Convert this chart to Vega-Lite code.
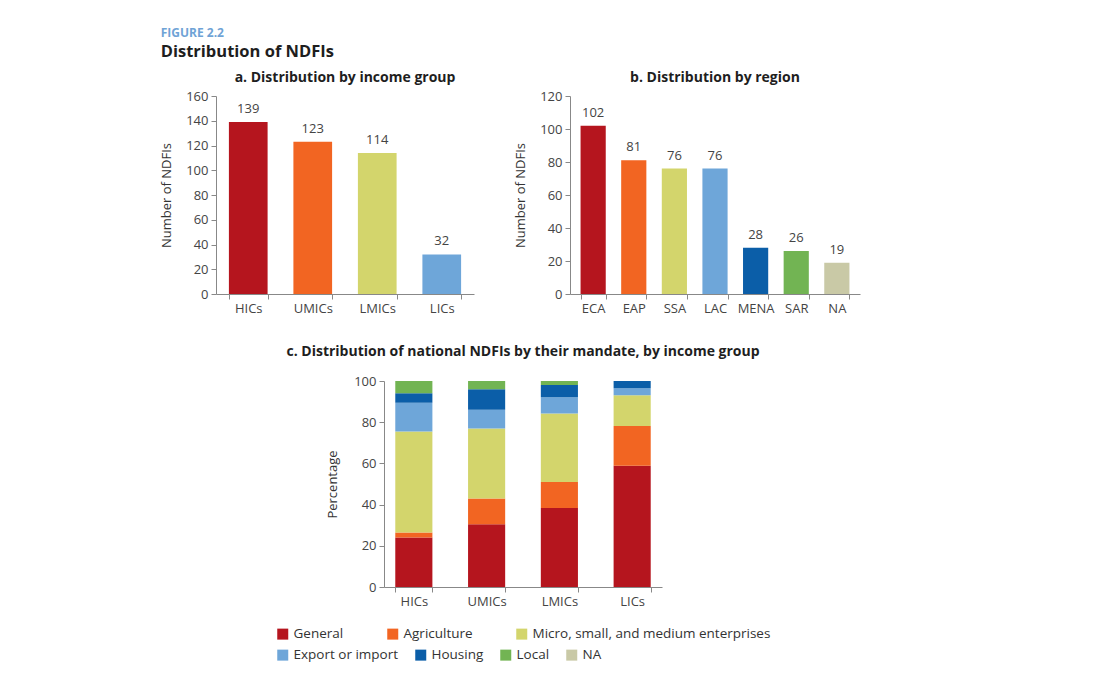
{
  "$schema": "https://vega.github.io/schema/vega-lite/v6.json",
  "background": "white",
  "padding": {"left": 160, "top": 26, "right": 10, "bottom": 5},
  "title": {
    "text": "FIGURE 2.2",
    "subtitle": "Distribution of NDFIs",
    "anchor": "start",
    "font": "Open Sans",
    "fontSize": 12,
    "fontWeight": "bold",
    "color": "#6fa3d6",
    "subtitleFont": "Open Sans",
    "subtitleFontSize": 16.5,
    "subtitleFontWeight": "bold",
    "subtitleColor": "#1e1e1e",
    "subtitlePadding": 4,
    "offset": 10
  },
  "spacing": 30,
  "resolve": {"scale": {"color": "independent"}, "legend": {"color": "independent"}},
  "vconcat": [
    {
      "hconcat": [
        {
          "width": 258,
          "height": 198,
          "title": {"text": "a. Distribution by income group", "offset": 5},
          "data": {"values": [
            {"group": "HICs", "n": 139},
            {"group": "UMICs", "n": 123},
            {"group": "LMICs", "n": 114},
            {"group": "LICs", "n": 32}
          ]},
          "encoding": {
            "x": {"field": "group", "type": "nominal", "sort": null,
                  "scale": {"paddingInner": 0.4, "paddingOuter": 0.2},
                  "axis": {"title": null, "labelAngle": 0, "tickBand": "extent"}},
            "y": {"field": "n", "type": "quantitative",
                  "scale": {"domain": [0, 160]},
                  "axis": {"values": [0, 20, 40, 60, 80, 100, 120, 140, 160], "title": "Number of NDFIs"}}
          },
          "layer": [
            {"mark": {"type": "bar"},
             "encoding": {"color": {"field": "group", "type": "nominal",
               "scale": {"domain": ["HICs", "UMICs", "LMICs", "LICs"], "range": ["#b5151e", "#f26522", "#d3d56c", "#6ea6d9"]},
               "legend": null}}},
            {"mark": {"type": "text", "baseline": "bottom", "dy": -6, "font": "Open Sans", "fontSize": 13, "color": "#444"},
             "encoding": {"text": {"field": "n", "type": "quantitative"}}}
          ]
        },
        {
          "width": 290,
          "height": 198,
          "title": {"text": "b. Distribution by region", "offset": 5},
          "data": {"values": [
            {"region": "ECA", "n": 102},
            {"region": "EAP", "n": 81},
            {"region": "SSA", "n": 76},
            {"region": "LAC", "n": 76},
            {"region": "MENA", "n": 28},
            {"region": "SAR", "n": 26},
            {"region": "NA", "n": 19}
          ]},
          "encoding": {
            "x": {"field": "region", "type": "nominal", "sort": null,
                  "scale": {"paddingInner": 0.38, "paddingOuter": 0.26},
                  "axis": {"title": null, "labelAngle": 0, "tickBand": "extent"}},
            "y": {"field": "n", "type": "quantitative",
                  "scale": {"domain": [0, 120]},
                  "axis": {"values": [0, 20, 40, 60, 80, 100, 120], "title": "Number of NDFIs"}}
          },
          "layer": [
            {"mark": {"type": "bar"},
             "encoding": {"color": {"field": "region", "type": "nominal",
               "scale": {"domain": ["ECA", "EAP", "SSA", "LAC", "MENA", "SAR", "NA"], "range": ["#b5151e", "#f26522", "#d3d56c", "#6ea6d9", "#0b5ea8", "#72b453", "#c9c9a6"]},
               "legend": null}}},
            {"mark": {"type": "text", "baseline": "bottom", "dy": -6, "font": "Open Sans", "fontSize": 13, "color": "#444"},
             "encoding": {"text": {"field": "n", "type": "quantitative"}}}
          ]
        }
      ],
      "spacing": 40,
      "resolve": {"scale": {"color": "independent"}, "legend": {"color": "independent"}}
    },
    {
      "hconcat": [
        {
          "width": 60,
          "height": 10,
          "data": {"values": []},
          "mark": "point"
        },
        {
          "width": 278,
          "height": 206,
          "title": {"text": "c. Distribution of national NDFIs by their mandate, by income group", "offset": 16},
          "data": {"values": [
            {"group": "HICs", "mandate": "General", "pct": 24},
            {"group": "HICs", "mandate": "Agriculture", "pct": 2.5},
            {"group": "HICs", "mandate": "Micro, small, and medium enterprises", "pct": 49},
            {"group": "HICs", "mandate": "Export or import", "pct": 14},
            {"group": "HICs", "mandate": "Housing", "pct": 4.5},
            {"group": "HICs", "mandate": "Local", "pct": 6},
            {"group": "UMICs", "mandate": "General", "pct": 30.5},
            {"group": "UMICs", "mandate": "Agriculture", "pct": 12.5},
            {"group": "UMICs", "mandate": "Micro, small, and medium enterprises", "pct": 34},
            {"group": "UMICs", "mandate": "Export or import", "pct": 9},
            {"group": "UMICs", "mandate": "Housing", "pct": 10},
            {"group": "UMICs", "mandate": "Local", "pct": 4},
            {"group": "LMICs", "mandate": "General", "pct": 38.4},
            {"group": "LMICs", "mandate": "Agriculture", "pct": 12.6},
            {"group": "LMICs", "mandate": "Micro, small, and medium enterprises", "pct": 33.2},
            {"group": "LMICs", "mandate": "Export or import", "pct": 7.9},
            {"group": "LMICs", "mandate": "Housing", "pct": 5.9},
            {"group": "LMICs", "mandate": "Local", "pct": 2},
            {"group": "LICs", "mandate": "General", "pct": 58.9},
            {"group": "LICs", "mandate": "Agriculture", "pct": 19.3},
            {"group": "LICs", "mandate": "Micro, small, and medium enterprises", "pct": 14.9},
            {"group": "LICs", "mandate": "Export or import", "pct": 3.4},
            {"group": "LICs", "mandate": "Housing", "pct": 3.5},
            {"group": "LICs", "mandate": "Local", "pct": 0}
          ]},
          "transform": [
            {"stack": "pct", "groupby": ["group"], "as": ["y0", "y1"]}
          ],
          "encoding": {
            "x": {"field": "group", "type": "nominal", "sort": ["HICs", "UMICs", "LMICs", "LICs"],
                  "scale": {"paddingInner": 0.49, "paddingOuter": 0.155},
                  "axis": {"title": null, "labelAngle": 0, "tickBand": "extent"}},
            "y": {"field": "y0", "type": "quantitative",
                  "scale": {"domain": [0, 100]},
                  "axis": {"values": [0, 20, 40, 60, 80, 100], "title": "Percentage", "titlePadding": 14}},
            "y2": {"field": "y1"}
          },
          "layer": [
            {
              "transform": [{"filter": {"field": "mandate", "oneOf": ["General", "Agriculture", "Micro, small, and medium enterprises"]}}],
              "mark": {"type": "bar"},
              "encoding": {"color": {"field": "mandate", "type": "nominal",
                "scale": {"domain": ["General", "Agriculture", "Micro, small, and medium enterprises"], "range": ["#b5151e", "#f26522", "#d3d56c"]},
                "legend": {"orient": "bottom", "direction": "horizontal", "title": null, "columnPadding": 42}}}
            },
            {
              "transform": [{"filter": {"field": "mandate", "oneOf": ["Export or import", "Housing", "Local", "NA"]}}],
              "mark": {"type": "bar"},
              "encoding": {"color": {"field": "mandate", "type": "nominal",
                "scale": {"domain": ["Export or import", "Housing", "Local", "NA"], "range": ["#6ea6d9", "#0b5ea8", "#72b453", "#c9c9a6"]},
                "legend": {"orient": "bottom", "direction": "horizontal", "title": null, "columnPadding": 15}}}
            }
          ],
          "resolve": {"scale": {"color": "independent"}, "legend": {"color": "independent"}}
        }
      ],
      "spacing": 0,
      "resolve": {"scale": {"color": "independent"}, "legend": {"color": "independent"}}
    }
  ],
  "config": {
    "font": "Open Sans",
    "view": {"stroke": null},
    "title": {"font": "Open Sans", "fontSize": 14, "fontWeight": "bold", "color": "#1e1e1e"},
    "axis": {
      "grid": false,
      "domainColor": "#888",
      "tickColor": "#888",
      "tickSize": 5,
      "labelColor": "#444",
      "labelFontSize": 13,
      "labelFont": "Open Sans",
      "labelPadding": 3,
      "titleFont": "Open Sans",
      "titleFontSize": 13,
      "titleFontWeight": "normal",
      "titleColor": "#333",
      "titlePadding": 12
    },
    "legend": {
      "symbolType": "square",
      "symbolSize": 121,
      "symbolStrokeWidth": 0,
      "labelFont": "Open Sans",
      "labelFontSize": 13.5,
      "labelColor": "#333",
      "labelLimit": 400,
      "offset": 19,
      "layout": {"bottom": {"anchor": "middle", "direction": "vertical", "margin": 7}}
    }
  }
}
